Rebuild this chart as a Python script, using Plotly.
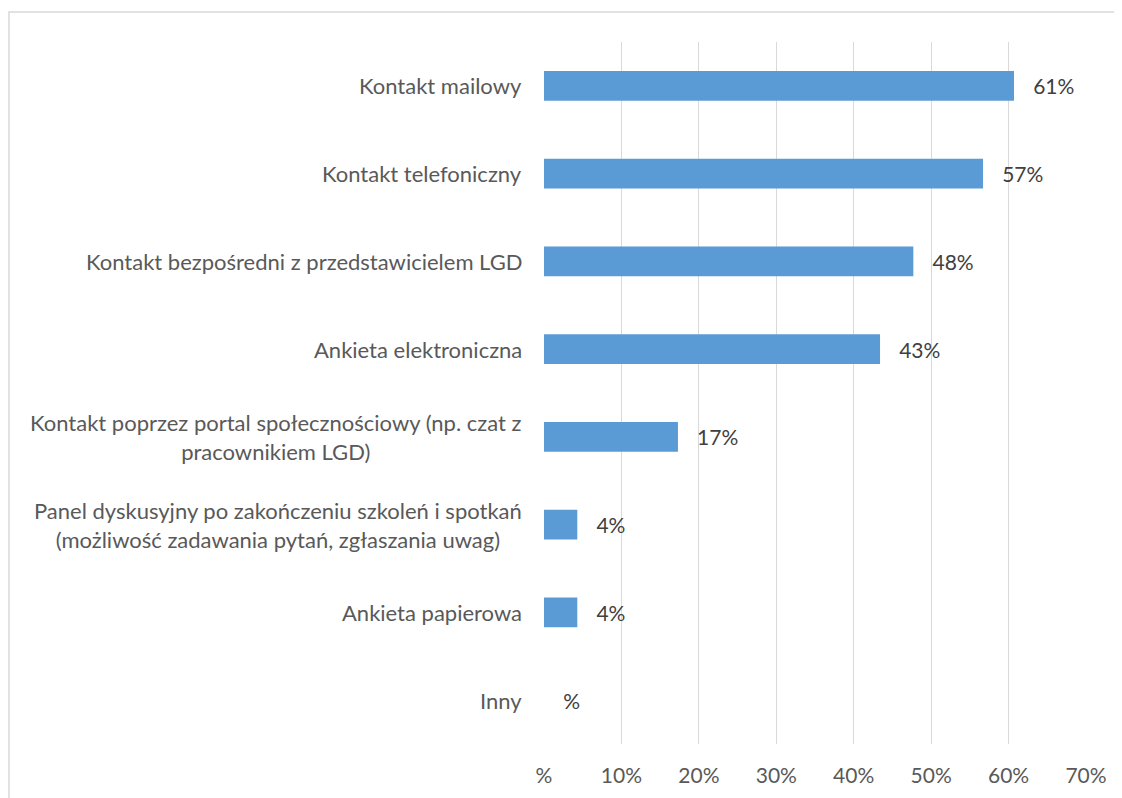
import plotly.graph_objects as go

# categories from top to bottom, share of respondents
categories = [
    "Kontakt mailowy",
    "Kontakt telefoniczny",
    "Kontakt bezpośredni z przedstawicielem LGD",
    "Ankieta elektroniczna",
    "Kontakt poprzez portal społecznościowy (np. czat z<br>pracownikiem LGD)",
    "Panel dyskusyjny po zakończeniu szkoleń i spotkań<br>(możliwość zadawania pytań, zgłaszania uwag)",
    "Ankieta papierowa",
    "Inny",
]
values = [0.607, 0.567, 0.477, 0.434, 0.173, 0.043, 0.043, 0.0]

tick_vals = [0, 0.1, 0.2, 0.3, 0.4, 0.5, 0.6, 0.7]
tick_text = ["%", "10%", "20%", "30%", "40%", "50%", "60%", "70%"]

# Excel "0%" style format where zero shows just "%"
labels = [("%d%%" % round(v * 100)) if v else "%" for v in values]

FONT = "Lato"
TXT = "#595959"

fig = go.Figure()
fig.add_trace(go.Bar(
    x=values,
    y=list(range(len(categories))),
    orientation="h",
    marker=dict(color="#5B9BD5", line=dict(width=0)),
    width=0.34,
    text=["   " + t for t in labels],
    textposition="outside",
    textfont=dict(family=FONT, size=21, color="#404040"),
    cliponaxis=False,
    hoverinfo="skip",
))

# category labels as centred annotations (Excel centres wrapped labels)
for i, c in enumerate(categories):
    fig.add_annotation(
        x=0, xref="paper", y=i, yref="y",
        text=c, showarrow=False, xanchor="right", align="center",
        xshift=-20, font=dict(family=FONT, size=22, color=TXT),
    )

# page body has an 8px margin, so the figure is offset by 8px
fig.update_layout(
    width=1122, height=798,
    margin=dict(l=536, r=44, t=34, b=62),
    paper_bgcolor="white", plot_bgcolor="white",
    showlegend=False,
    xaxis=dict(
        range=[0, 0.7], tickvals=tick_vals, ticktext=tick_text,
        showgrid=True, gridcolor="#D9D9D9", gridwidth=1.3,
        zeroline=False, showline=False, ticks="",
        tickfont=dict(family=FONT, size=21, color=TXT),
        ticklabelstandoff=17,
    ),
    yaxis=dict(
        range=[len(categories) - 0.5, -0.5],
        showticklabels=False, showgrid=False, zeroline=False, ticks="",
    ),
    shapes=[dict(
        type="rect", xref="paper", yref="paper",
        x0=-535 / 542, x1=1.2, y0=-0.2, y1=(736 - 4) / 702,
        line=dict(color="#D9D9D9", width=1.5), fillcolor="rgba(0,0,0,0)",
        layer="below",
    )],
)

fig.write_html("out.html")
